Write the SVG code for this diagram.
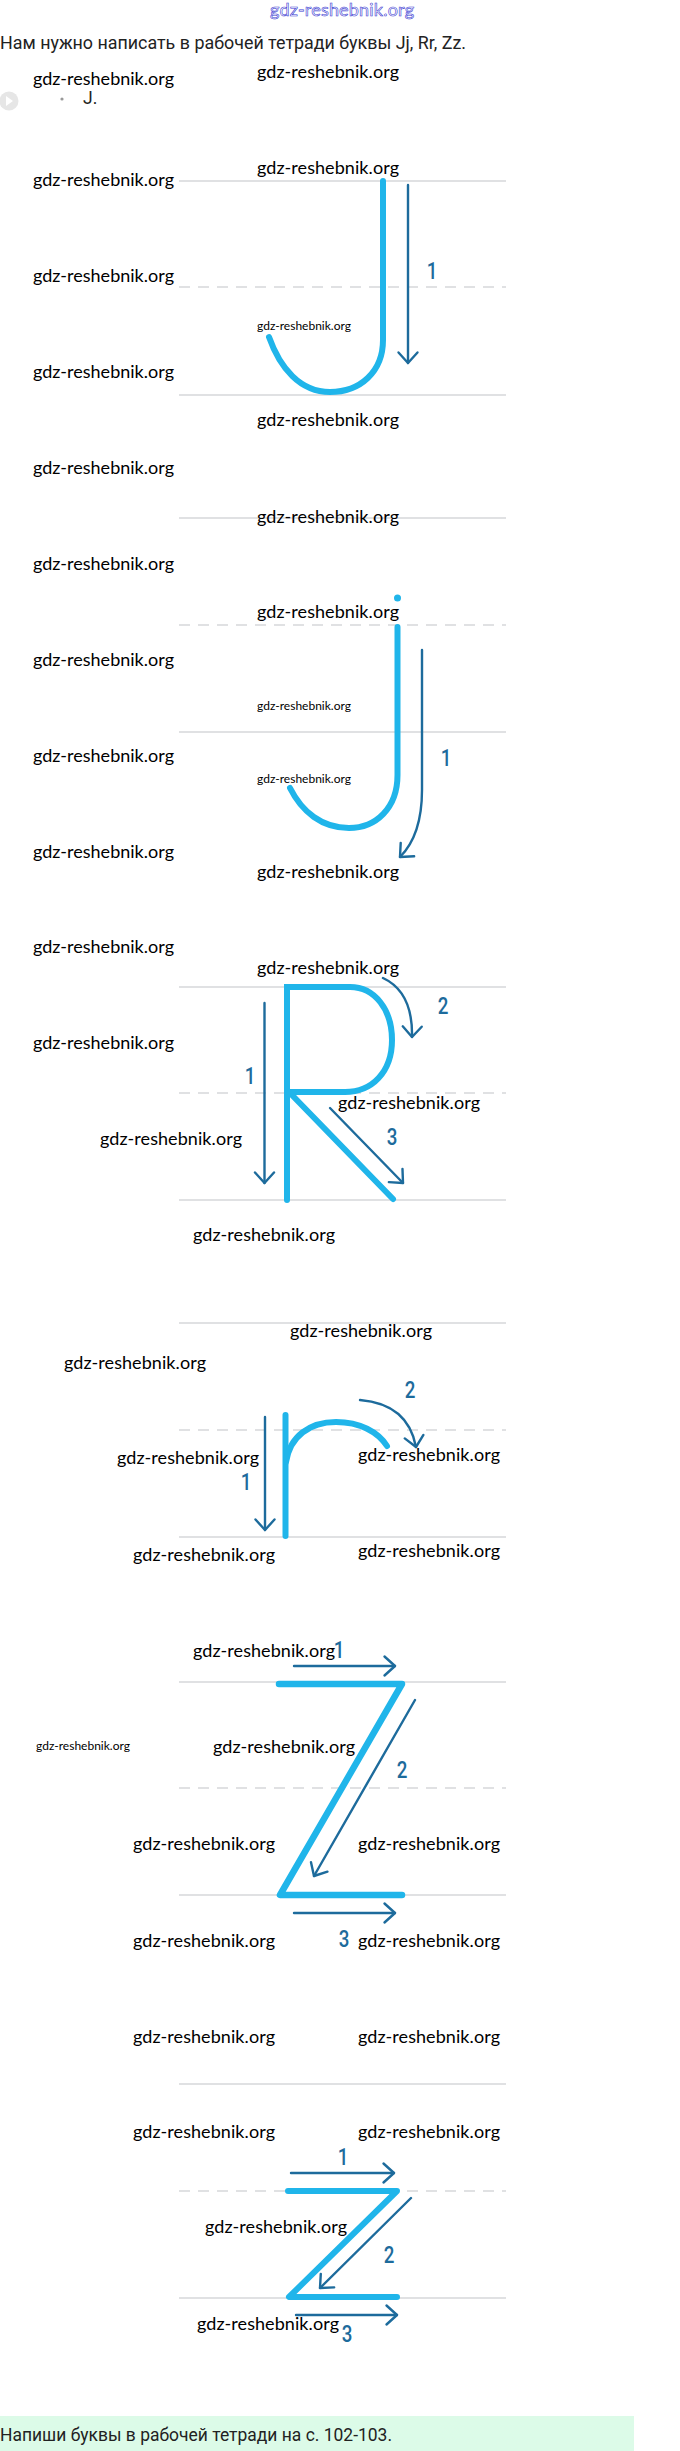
<svg xmlns="http://www.w3.org/2000/svg" width="680" height="2451" viewBox="0 0 680 2451">
<style>
.bg{fill:#ffffff}
.hdr{font-family:Roboto,"Liberation Sans",sans-serif;font-size:17.5px;fill:#222222}
.wm{font-family:Lato,"Liberation Sans",sans-serif;font-size:18px;fill:#000000}
.wms{font-family:Lato,"Liberation Sans",sans-serif;font-size:12px;fill:#000000}
.wmtop{font-family:Lato,"Liberation Sans",sans-serif;font-size:18px;fill:#ffffff;stroke:#3a3ad2;stroke-width:0.6}
.rule{stroke:#e0e1e3;stroke-width:2;fill:none}
.dash{stroke:#e0e1e3;stroke-width:2;fill:none;stroke-dasharray:11 8}
.let{stroke:#20b5ea;stroke-width:6;fill:none;stroke-linecap:round;stroke-linejoin:round}
.arr{stroke:#1d6b9c;stroke-width:2.4;fill:none;stroke-linecap:round;marker-end:url(#ah)}
.num{font-family:Roboto,"Liberation Sans",sans-serif;font-size:24px;font-weight:500;fill:#1d6b9c;text-anchor:middle}
</style>
<defs>
<marker id="ah" viewBox="-13 -12 15 24" refX="0" refY="0" markerWidth="15" markerHeight="24" markerUnits="userSpaceOnUse" orient="auto">
<path d="M-10.5,-9.5 L0,0 L-10.5,9.5" fill="none" stroke="#1d6b9c" stroke-width="2.4" stroke-linecap="round" stroke-linejoin="round"/>
</marker>
</defs>
<rect class="bg" x="0" y="0" width="680" height="2451"/>

<g id="header">
<text class="wmtop" x="270" y="16" textLength="144">gdz-reshebnik.org</text>
<text class="hdr" x="0" y="49" textLength="466" lengthAdjust="spacingAndGlyphs">Нам нужно написать в рабочей тетради буквы Jj, Rr, Zz.</text>
<circle cx="9" cy="101" r="9.5" fill="#e6e6e6"/>
<path d="M6,96 L13,101 L6,106 Z" fill="#ffffff"/>
<circle cx="62" cy="99" r="1.6" fill="#999999"/>
<text class="hdr" x="83" y="104" font-size="16">J.</text>
</g>

<g id="rules">
<line class="rule" x1="179" y1="181" x2="506" y2="181"/>
<line class="dash" x1="179" y1="287" x2="506" y2="287"/>
<line class="rule" x1="179" y1="395" x2="506" y2="395"/>
<line class="rule" x1="179" y1="518" x2="506" y2="518"/>
<line class="dash" x1="179" y1="625" x2="506" y2="625"/>
<line class="rule" x1="179" y1="732" x2="506" y2="732"/>
<line class="rule" x1="179" y1="987" x2="506" y2="987"/>
<line class="dash" x1="179" y1="1093" x2="506" y2="1093"/>
<line class="rule" x1="179" y1="1200" x2="506" y2="1200"/>
<line class="rule" x1="179" y1="1323" x2="506" y2="1323"/>
<line class="dash" x1="179" y1="1430" x2="506" y2="1430"/>
<line class="rule" x1="179" y1="1537" x2="506" y2="1537"/>
<line class="rule" x1="179" y1="1682" x2="506" y2="1682"/>
<line class="dash" x1="179" y1="1788" x2="506" y2="1788"/>
<line class="rule" x1="179" y1="1895" x2="506" y2="1895"/>
<line class="rule" x1="179" y1="2084" x2="506" y2="2084"/>
<line class="dash" x1="179" y1="2191" x2="506" y2="2191"/>
<line class="rule" x1="179" y1="2298" x2="506" y2="2298"/>
</g>

<g id="letter-J">
<path class="let" d="M383,181 V340 C383,372 360,392 330,392 C300,392 280,368 269,337"/>
</g>
<g id="letter-j">
<circle cx="397.5" cy="598" r="3.5" fill="#20b5ea"/>
<path class="let" d="M397.5,627 V775 C397.5,808 376,828 349,828 C322,828 302,812 290,788"/>
</g>
<g id="letter-R">
<path class="let" style="stroke-linejoin:miter" d="M287,1200 V987 H350 C375,987 392,1010 392,1040 C392,1072 372,1092 345,1092 H287"/>
<path class="let" d="M290,1093 L393,1199"/>
</g>
<g id="letter-r">
<path class="let" d="M285.5,1415 V1536"/>
<path class="let" d="M286,1462 C290,1436 310,1422 336,1422 C360,1422 378,1432 387,1446"/>
</g>
<g id="letter-Z">
<path class="let" style="stroke-width:6.5" d="M279,1684 H402 L280,1895 H402"/>
</g>
<g id="letter-z">
<path class="let" d="M288,2191 H397 L289,2297 H397"/>
</g>

<g id="connectors">
<path class="arr" d="M408,185 V363"/>
<path class="arr" d="M422,650 V790 Q422,835 400,857"/>
<path class="arr" d="M264.5,1003 V1183"/>
<path class="arr" d="M383,978 Q413,992 412,1037"/>
<path class="arr" d="M330,1108 L403,1183"/>
<path class="arr" d="M265,1417 V1530"/>
<path class="arr" d="M360,1400 Q408,1404 416,1447"/>
<path class="arr" d="M294,1666 H395"/>
<path class="arr" d="M415,1700 L314,1876"/>
<path class="arr" d="M294,1913 H395"/>
<path class="arr" d="M291,2173 H394"/>
<path class="arr" d="M411,2198 L320,2288"/>
<path class="arr" d="M296,2315 H397"/>
</g>

<g id="labels">
<text class="num" transform="translate(432,279) scale(0.78,1)">1</text>
<text class="num" transform="translate(446,766) scale(0.78,1)">1</text>
<text class="num" transform="translate(250,1084) scale(0.78,1)">1</text>
<text class="num" transform="translate(443,1014) scale(0.78,1)">2</text>
<text class="num" transform="translate(392,1145) scale(0.78,1)">3</text>
<text class="num" transform="translate(246,1490) scale(0.78,1)">1</text>
<text class="num" transform="translate(410,1398) scale(0.78,1)">2</text>
<text class="num" transform="translate(339,1658) scale(0.78,1)">1</text>
<text class="num" transform="translate(402,1778) scale(0.78,1)">2</text>
<text class="num" transform="translate(344,1947) scale(0.78,1)">3</text>
<text class="num" transform="translate(343,2165) scale(0.78,1)">1</text>
<text class="num" transform="translate(389,2263) scale(0.78,1)">2</text>
<text class="num" transform="translate(347,2342) scale(0.78,1)">3</text>
</g>

<g id="watermarks">
<text class="wm" x="33" y="85" textLength="141">gdz-reshebnik.org</text>
<text class="wm" x="257" y="78" textLength="142">gdz-reshebnik.org</text>
<text class="wm" x="257" y="174" textLength="142">gdz-reshebnik.org</text>
<text class="wm" x="33" y="186" textLength="141">gdz-reshebnik.org</text>
<text class="wm" x="33" y="282" textLength="141">gdz-reshebnik.org</text>
<text class="wms" x="257" y="330" textLength="94">gdz-reshebnik.org</text>
<text class="wm" x="33" y="378" textLength="141">gdz-reshebnik.org</text>
<text class="wm" x="257" y="426" textLength="142">gdz-reshebnik.org</text>
<text class="wm" x="33" y="474" textLength="141">gdz-reshebnik.org</text>
<text class="wm" x="257" y="523" textLength="142">gdz-reshebnik.org</text>
<text class="wm" x="33" y="570" textLength="141">gdz-reshebnik.org</text>
<text class="wm" x="257" y="618" textLength="142">gdz-reshebnik.org</text>
<text class="wm" x="33" y="666" textLength="141">gdz-reshebnik.org</text>
<text class="wms" x="257" y="710" textLength="94">gdz-reshebnik.org</text>
<text class="wm" x="33" y="762" textLength="141">gdz-reshebnik.org</text>
<text class="wms" x="257" y="783" textLength="94">gdz-reshebnik.org</text>
<text class="wm" x="33" y="858" textLength="141">gdz-reshebnik.org</text>
<text class="wm" x="257" y="878" textLength="142">gdz-reshebnik.org</text>
<text class="wm" x="33" y="953" textLength="141">gdz-reshebnik.org</text>
<text class="wm" x="257" y="974" textLength="142">gdz-reshebnik.org</text>
<text class="wm" x="33" y="1049" textLength="141">gdz-reshebnik.org</text>
<text class="wm" x="338" y="1109" textLength="142">gdz-reshebnik.org</text>
<text class="wm" x="100" y="1145" textLength="142">gdz-reshebnik.org</text>
<text class="wm" x="193" y="1241" textLength="142">gdz-reshebnik.org</text>
<text class="wm" x="290" y="1337" textLength="142">gdz-reshebnik.org</text>
<text class="wm" x="64" y="1369" textLength="142">gdz-reshebnik.org</text>
<text class="wm" x="117" y="1464" textLength="142">gdz-reshebnik.org</text>
<text class="wm" x="358" y="1461" textLength="142">gdz-reshebnik.org</text>
<text class="wm" x="133" y="1561" textLength="142">gdz-reshebnik.org</text>
<text class="wm" x="358" y="1557" textLength="142">gdz-reshebnik.org</text>
<text class="wm" x="193" y="1657" textLength="142">gdz-reshebnik.org</text>
<text class="wms" x="36" y="1750" textLength="94">gdz-reshebnik.org</text>
<text class="wm" x="213" y="1753" textLength="142">gdz-reshebnik.org</text>
<text class="wm" x="133" y="1850" textLength="142">gdz-reshebnik.org</text>
<text class="wm" x="358" y="1850" textLength="142">gdz-reshebnik.org</text>
<text class="wm" x="133" y="1947" textLength="142">gdz-reshebnik.org</text>
<text class="wm" x="358" y="1947" textLength="142">gdz-reshebnik.org</text>
<text class="wm" x="133" y="2043" textLength="142">gdz-reshebnik.org</text>
<text class="wm" x="358" y="2043" textLength="142">gdz-reshebnik.org</text>
<text class="wm" x="133" y="2138" textLength="142">gdz-reshebnik.org</text>
<text class="wm" x="358" y="2138" textLength="142">gdz-reshebnik.org</text>
<text class="wm" x="205" y="2233" textLength="142">gdz-reshebnik.org</text>
<text class="wm" x="197" y="2330" textLength="142">gdz-reshebnik.org</text>
</g>

<g id="footer">
<rect x="0" y="2416" width="634" height="35" fill="#dcfbe8"/>
<text class="hdr" x="0" y="2441" textLength="392" lengthAdjust="spacingAndGlyphs">Напиши буквы в рабочей тетради на с. 102-103.</text>
</g>
</svg>
